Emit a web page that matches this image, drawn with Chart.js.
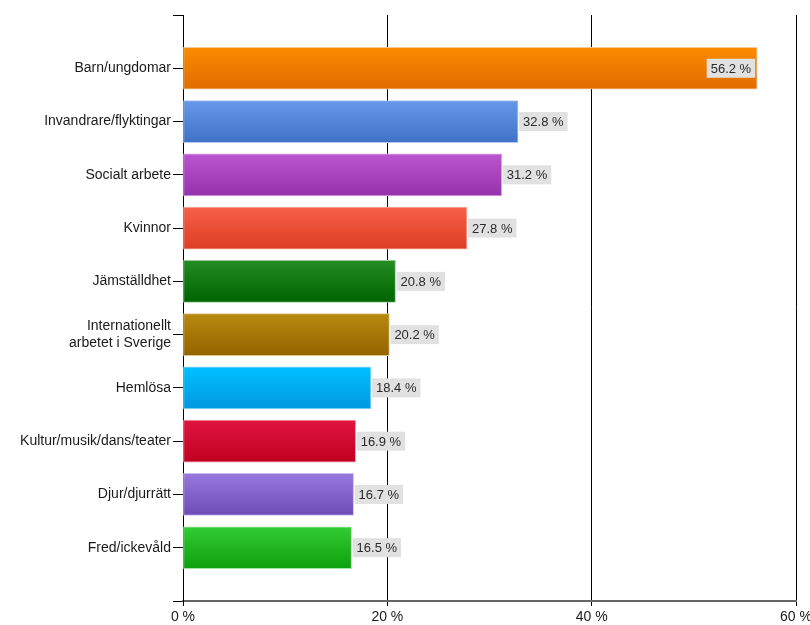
<!DOCTYPE html>
<html>
<head>
<meta charset="utf-8">
<script src="https://cdn.jsdelivr.net/npm/chart.js@4"></script>
<style>
  html, body { margin: 0; padding: 0; background: #fff; }
  #wrap { width: 810px; height: 625px; }
</style>
</head>
<body>
<div id="wrap"><canvas id="chart"></canvas></div>
<script>
const categories = [
    'Barn/ungdomar',
    'Invandrare/flyktingar',
    'Socialt arbete',
    'Kvinnor',
    'Jämställdhet',
    ['Internationellt', 'arbetet i Sverige'],
    'Hemlösa',
    'Kultur/musik/dans/teater',
    'Djur/djurrätt',
    'Fred/ickevåld'
];
const percentages = [56.2, 32.8, 31.2, 27.8, 20.8, 20.2, 18.4, 16.9, 16.7, 16.5];
const xTicks = [0, 20, 40, 60];

const topColors = ['#fb8c00', '#6798e8', '#bc55d0', '#f76048', '#238c23', '#b98a10', '#00c0ff', '#e01540', '#9878dc', '#33cc33'];
const bottomColors = ['#df6c00', '#3f72c8', '#9531ab', '#dc3e24', '#006400', '#946300', '#0098e0', '#c00020', '#6e4cb8', '#0ea00e'];
const borderColors = ['#f7c89a', '#b4c8f0', '#dcaae6', '#f8b0a4', '#9cc89c', '#dcc48c', '#a0dcf8', '#f0a0b0', '#ccbcee', '#a4e4a4'];

// empty slot above and below, like the original chart
const labels = [''].concat(categories, ['']);
const values = [null].concat(percentages, [null]);

const BAR_H = 42;
const FONT = '"Liberation Sans", Arial, sans-serif';

function barFill(ctx) {
    const chart = ctx.chart;
    const i = ctx.dataIndex - 1;
    if (i < 0 || i >= percentages.length) return 'transparent';
    const yScale = chart.scales.y;
    if (!yScale || !chart.chartArea) return topColors[i];
    const y = yScale.getPixelForValue(ctx.dataIndex);
    const g = chart.ctx.createLinearGradient(0, y - BAR_H / 2, 0, y + BAR_H / 2);
    g.addColorStop(0, topColors[i]);
    g.addColorStop(1, bottomColors[i]);
    return g;
}

const valueLabels = {
    id: 'valueLabels',
    afterDatasetsDraw(chart) {
        const ctx = chart.ctx;
        const meta = chart.getDatasetMeta(0);
        ctx.save();
        ctx.font = '13px ' + FONT;
        ctx.textBaseline = 'middle';
        meta.data.forEach((bar, idx) => {
            const v = values[idx];
            if (v == null) return;
            const text = v.toFixed(1) + ' %';
            const w = ctx.measureText(text).width + 8;
            const h = 19;
            let x = bar.x + 1;
            if (x + w > chart.chartArea.right) x = bar.x - w - 2;
            ctx.fillStyle = '#e1e1e1';
            ctx.fillRect(x, bar.y - h / 2, w, h);
            ctx.fillStyle = '#2a2a2a';
            ctx.fillText(text, x + 4, bar.y + 1);
        });
        ctx.restore();
    }
};

new Chart(document.getElementById('chart'), {
    type: 'bar',
    data: {
        labels: labels,
        datasets: [{
            data: values,
            backgroundColor: barFill,
            borderColor: (ctx) => borderColors[ctx.dataIndex - 1] || 'transparent',
            borderWidth: 1,
            borderSkipped: false,
            barThickness: BAR_H
        }]
    },
    options: {
        indexAxis: 'y',
        responsive: true,
        maintainAspectRatio: false,
        animation: false,
        layout: { padding: { top: 15, right: 14, left: 0, bottom: 0 } },
        plugins: {
            legend: { display: false },
            tooltip: { enabled: false }
        },
        scales: {
            x: {
                min: xTicks[0],
                max: xTicks[xTicks.length - 1],
                afterBuildTicks: (scale) => { scale.ticks = xTicks.map(v => ({ value: v })); },
                afterFit: (scale) => {
                    scale.height = 24;
                    scale.paddingLeft = 0;
                    scale.paddingRight = 0;
                },
                grid: { color: '#000', lineWidth: 1, tickLength: 5 },
                border: { color: '#666', width: 2 },
                ticks: {
                    color: '#1a1a1a',
                    padding: 3,
                    font: { family: FONT, size: 14 },
                    callback: (v) => v + ' %'
                }
            },
            y: {
                offset: false,
                afterFit: (scale) => { scale.width = 183; },
                grid: { drawOnChartArea: false, offset: false, color: '#000', tickLength: 10 },
                border: { color: '#000', width: 1 },
                ticks: {
                    color: '#1a1a1a',
                    padding: 2,
                    autoSkip: false,
                    font: { family: FONT, size: 14, lineHeight: 1.15 }
                }
            }
        }
    },
    plugins: [valueLabels]
});
</script>
</body>
</html>
